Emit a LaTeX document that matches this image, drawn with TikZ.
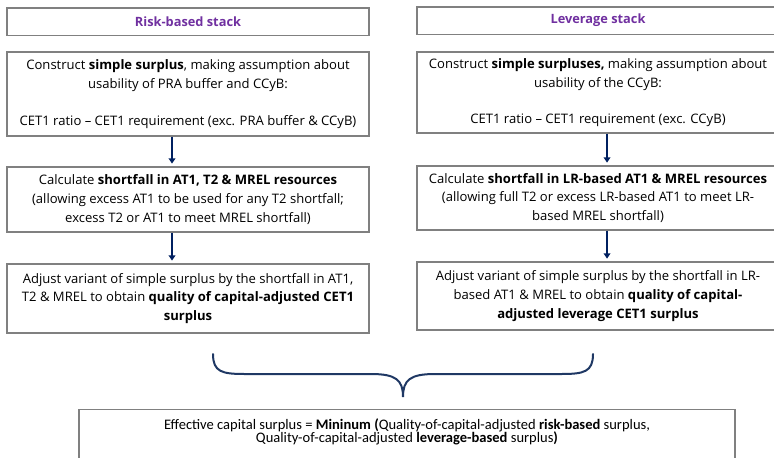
\documentclass[tikz,border=0pt]{standalone}
\usepackage{fontspec}
\setmainfont{Open Sans}
\newfontfamily\calibrifont{Carlito}
\usetikzlibrary{arrows.meta}
\definecolor{stackpurple}{RGB}{112,48,160}
\definecolor{arrownavy}{RGB}{0,32,96}
\definecolor{bracenavy}{RGB}{31,56,100}
\definecolor{boxgrey}{RGB}{128,128,128}

\begin{document}
\begin{tikzpicture}[x=0.75pt,y=-0.75pt,
    stepbox/.style={draw=boxgrey,line width=1pt,align=center,minimum width=271.5pt,inner sep=0pt,
        font=\fontsize{9.8}{14}\selectfont},
    headbox/.style={stepbox,minimum height=20.5pt,text=stackpurple,font=\fontsize{9.6}{13.5}\selectfont\bfseries},
    finalbox/.style={draw=boxgrey,line width=1pt,align=center,minimum width=492pt,inner xsep=0pt,inner ysep=6.5pt,
        anchor=north,text depth=40pt,font=\calibrifont\fontsize{10.9}{10.2}\selectfont},
    flow/.style={draw=arrownavy,line width=1.5pt,-{Triangle[width=5pt,length=4pt]},shorten >=2pt}]
        \useasboundingbox (0,0) rectangle (774,457);
        \clip (0,0) rectangle (774,457);

        % left column: risk-based
        \coordinate (hL) at (188,21.5);
        \coordinate (aL) at (188,94);
        \coordinate (bL) at (188,199.5);
        \coordinate (cL) at (188,298.5);
        % right column: leverage
        \coordinate (hR) at (598,20.5);
        \coordinate (aR) at (598,92.5);
        \coordinate (bR) at (598,198);
        \coordinate (cR) at (598,296);

        \node[headbox] (headL) at (hL) {Risk-based stack};
        \node[stepbox,minimum height=63pt,text depth=2pt] (simpleL) at (aL)
            {Construct \textbf{simple surplus}, making assumption about\\
             usability of PRA buffer and CCyB:\\[13.5pt]
             CET1 ratio – CET1 requirement (exc. PRA buffer \& CCyB)};
        \node[stepbox,minimum height=48.75pt] (shortL) at (bL)
            {Calculate \textbf{shortfall in AT1, T2 \& MREL resources}\\
             (allowing excess AT1 to be used for any T2 shortfall;\\
             excess T2 or AT1 to meet MREL shortfall)};
        \node[stepbox,minimum height=51.75pt] (adjL) at (cL)
            {Adjust variant of simple surplus by the shortfall in AT1,\\
             T2 \& MREL to obtain \textbf{quality of capital-adjusted CET1}\\
             \textbf{surplus}};

        \node[headbox] (headR) at (hR) {Leverage stack};
        \node[stepbox,minimum height=60.75pt,text depth=2pt] (simpleR) at (aR)
            {Construct \textbf{simple surpluses,} making assumption about\\
             usability of the CCyB:\\[13.5pt]
             CET1 ratio – CET1 requirement (exc. CCyB)};
        \node[stepbox,minimum height=48pt] (shortR) at (bR)
            {Calculate \textbf{shortfall in LR-based AT1 \& MREL resources}\\
             (allowing full T2 or excess LR-based AT1 to meet LR-\\
             based MREL shortfall)};
        \node[stepbox,minimum height=51pt] (adjR) at (cR)
            {Adjust variant of simple surplus by the shortfall in LR-\\
             based AT1 \& MREL to obtain \textbf{quality of capital-}\\
             \textbf{adjusted leverage CET1 surplus}};

        \draw[flow] ([xshift=-12pt]simpleL.south) -- ([xshift=-12pt]shortL.north);
        \draw[flow] ([xshift=-12pt]shortL.south) -- ([xshift=-12pt]adjL.north);
        \draw[flow] ([xshift=6.75pt]simpleR.south) -- ([xshift=6.75pt]shortR.north);
        \draw[flow] ([xshift=6.75pt]shortR.south) -- ([xshift=6.75pt]adjR.north);

        % brace joining both stacks
        \draw[bracenavy,line width=1.5pt,line cap=round]
            (213,354) .. controls (213,372) and (222,374) .. (245,374) -- (371,374)
            .. controls (396,374) and (403,380) .. (403,397)
            .. controls (403,380) and (410,374) .. (435,374) -- (561,374)
            .. controls (584,374) and (593,372) .. (593,354);

        \node[finalbox] (effcap) at (407,409)
            {Effective capital surplus = \textbf{Mininum (}Quality-of-capital-adjusted \textbf{risk-based} surplus,\\
             Quality-of-capital-adjusted \textbf{leverage-based} surplus\textbf{)}};
\end{tikzpicture}
\end{document}
